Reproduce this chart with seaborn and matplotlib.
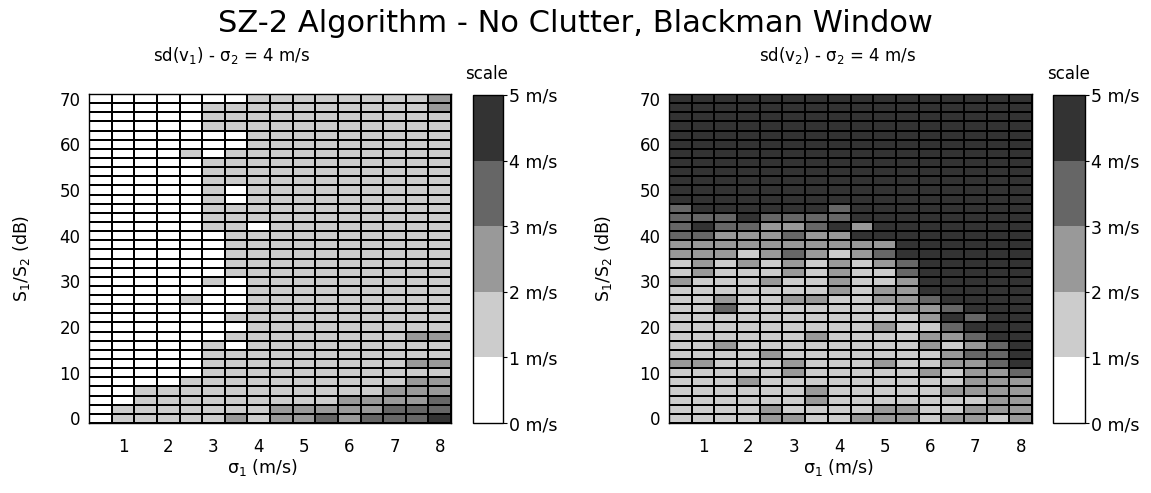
import numpy as np
import pandas as pd
import matplotlib
matplotlib.use("Agg")
import matplotlib.pyplot as plt
from matplotlib.colors import ListedColormap
import seaborn as sns

sns.set_theme(style="white")
plt.rcParams["font.family"] = ["DejaVu Sans"]
plt.rcParams["mathtext.default"] = "regular"
plt.rcParams["text.color"] = "black"

# Spectrum width of the first signal (m/s), one column per value
sigma1 = [0.5, 1.0, 1.5, 2.0, 2.5, 3.0, 3.5, 4.0, 4.5, 5.0, 5.5, 6.0, 6.5, 7.0, 7.5, 8.0]
# Power ratio S1/S2 (dB), one row per value, top row first
snr_db = [70, 68, 66, 64, 62, 60, 58, 56, 54, 52, 50, 48, 46, 44, 42, 40, 38, 36,
          34, 32, 30, 28, 26, 24, 22, 20, 18, 16, 14, 12, 10, 8, 6, 4, 2, 0]

# Standard deviation bins (lower bound in m/s) of the recovered v1
sd_v1_rows = [
    "0000000111111112",
    "0000011111111112",
    "0000011111111111",
    "0000011111111111",
    "0000000111111111",
    "0000000111111111",
    "0000101111111111",
    "0000011111111111",
    "0000011111111111",
    "0000011111111111",
    "0000010111111111",
    "0000010111111111",
    "0000011111111111",
    "0000011111111111",
    "0000011011111111",
    "0000001111111111",
    "0000001111111111",
    "0000001111111111",
    "0000001111111111",
    "0000001111111111",
    "0000010111111111",
    "0000000111111111",
    "0000100111111111",
    "0000000111111111",
    "0000001111111111",
    "0000000111111111",
    "0000001111111122",
    "0000010111111111",
    "0000011111111111",
    "0000011111111122",
    "0000011111111111",
    "0000111111111122",
    "0011111111111222",
    "0011111111122223",
    "0111111122222333",
    "0111112122323334",
]

# Standard deviation bins (lower bound in m/s) of the recovered v2
sd_v2_rows = [
    "4444444444444444",
    "4444444444444444",
    "4444444444444444",
    "4444444444444444",
    "4444444444444444",
    "4444444444444444",
    "4444444444444444",
    "4444444444444444",
    "4444444444444444",
    "4444444444444444",
    "4444444444444444",
    "4444444444444444",
    "3444444344444444",
    "3334333344444444",
    "3433223424444444",
    "3322232244444444",
    "2222222222444444",
    "2221232123444444",
    "1212121212344444",
    "1211121211344444",
    "2111211211244444",
    "1111111212244444",
    "1121122112234444",
    "1131111111223444",
    "1111111111124344",
    "1111111112113444",
    "1111112111122344",
    "1121111111121234",
    "1111211111112334",
    "2211121112112234",
    "1111121111121223",
    "1112111111111222",
    "1111112111112222",
    "1111112111111122",
    "1111211112211222",
    "1111221122212212",
]

sd_bounds = [0, 1, 2, 3, 4, 5]
sd_labels = ["0 m/s", "1 m/s", "2 m/s", "3 m/s", "4 m/s", "5 m/s"]
gray_levels = ["#ffffff", "#cccccc", "#999999", "#666666", "#333333"]
sigma_ticks = [1, 2, 3, 4, 5, 6, 7, 8]
snr_ticks = [0, 10, 20, 30, 40, 50, 60, 70]


def to_frame(rows):
    vals = np.array([[int(c) for c in r] for r in rows], dtype=float)
    return pd.DataFrame(vals, index=snr_db, columns=sigma1)


cmap = ListedColormap(gray_levels)

W, H = 1151, 493
fig = plt.figure(figsize=(W / 100, H / 100), dpi=100)


def px_box(x0, x1, y0, y1):
    return [x0 / W, 1 - y1 / H, (x1 - x0) / W, (y1 - y0) / H]


panels = [
    dict(rows=sd_v1_rows, ax=px_box(89, 451, 94, 423), cax=px_box(473, 503, 95, 423),
         title=r"sd(v$_1$) - $\sigma_2$ = 4 m/s", title_x=232, scale_x=487,
         ylab_x=22, xlab_x=262),
    dict(rows=sd_v2_rows, ax=px_box(669, 1032, 94, 423), cax=px_box(1053, 1085, 95, 423),
         title=r"sd(v$_2$) - $\sigma_2$ = 4 m/s", title_x=838, scale_x=1068,
         ylab_x=604, xlab_x=838),
]

for p in panels:
    ax = fig.add_axes(p["ax"])
    cax = fig.add_axes(p["cax"])
    df = to_frame(p["rows"])
    sns.heatmap(df, ax=ax, cbar_ax=cax, cmap=cmap, vmin=sd_bounds[0], vmax=sd_bounds[-1],
                linewidths=1.2, linecolor="black", xticklabels=False, yticklabels=False)

    # ticks placed at the cell centres of the labelled values
    ax.set_xticks([sigma1.index(float(v)) + 0.5 for v in sigma_ticks])
    ax.set_xticklabels([str(v) for v in sigma_ticks], fontsize=12, color="black")
    ax.set_yticks([snr_db.index(v) + 0.5 for v in snr_ticks])
    ax.set_yticklabels([str(v) for v in snr_ticks], fontsize=12, color="black", rotation=0)
    ax.tick_params(axis="x", length=0, pad=11)
    ax.tick_params(axis="y", length=0, pad=6)
    ax.set_xlabel("")
    ax.set_ylabel("")
    for s in ax.spines.values():
        s.set_visible(True)
        s.set_color("black")
        s.set_linewidth(1.0)

    cb = ax.collections[0].colorbar
    cb.set_ticks(sd_bounds)
    cb.set_ticklabels(sd_labels)
    cb.outline.set_visible(True)
    cb.outline.set_edgecolor("black")
    cb.outline.set_linewidth(1.0)
    cax.tick_params(axis="y", length=3, width=0.8, pad=1, labelsize=12.5,
                    colors="black", direction="out")

    fig.text(p["title_x"] / W, 1 - 55 / H, p["title"], ha="center", va="center",
             fontsize=12, color="black")
    fig.text(p["scale_x"] / W, 1 - 74 / H, "scale", ha="center", va="center",
             fontsize=12, color="black")
    fig.text(p["ylab_x"] / W, 1 - 258 / H, r"S$_1$/S$_2$ (dB)", rotation=90,
             ha="center", va="center", fontsize=12.5, color="black")
    fig.text(p["xlab_x"] / W, 1 - 468 / H, r"$\sigma_1$ (m/s)", ha="center", va="center",
             fontsize=12.5, color="black")

fig.text(0.5, 1 - 24 / H, "SZ-2 Algorithm - No Clutter, Blackman Window",
         ha="center", va="center", fontsize=22, color="black")

fig.savefig("out.png", dpi=100, facecolor="white")
